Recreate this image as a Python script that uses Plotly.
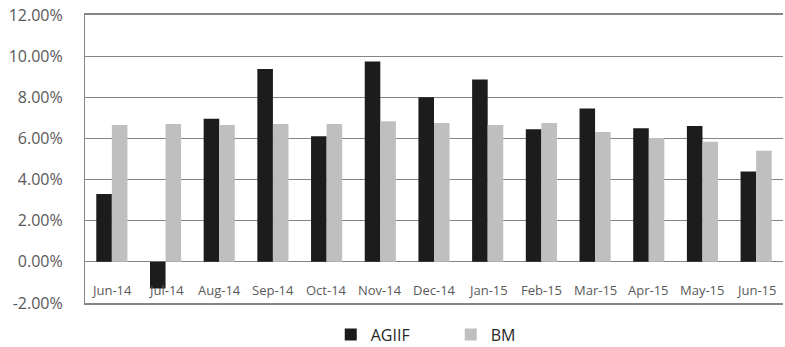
import plotly.graph_objects as go

# Monthly returns (%) for the fund and its benchmark
months = ["Jun-14", "Jul-14", "Aug-14", "Sep-14", "Oct-14", "Nov-14", "Dec-14",
          "Jan-15", "Feb-15", "Mar-15", "Apr-15", "May-15", "Jun-15"]
agiif = [3.29, -1.30, 6.96, 9.38, 6.10, 9.74, 8.00, 8.86, 6.44, 7.45, 6.49, 6.60, 4.39]
bm = [6.65, 6.70, 6.65, 6.70, 6.70, 6.83, 6.75, 6.65, 6.75, 6.31, 6.02, 5.84, 5.40]
y_ticks = [-2, 0, 2, 4, 6, 8, 10, 12]
y_labels = ["-2.00%", "0.00%", "2.00%", "4.00%", "6.00%", "8.00%", "10.00%", "12.00%"]

FONT = "Open Sans, sans-serif"
GRID = "#858585"
TEXT = "#595959"
LABEL_LEVEL = -1.38  # month labels sit between the 0% and -2% gridlines

fig = go.Figure()
fig.add_trace(go.Bar(name="AGIIF", x=months, y=agiif, marker_color="#1c1c1c",
                     marker_line_width=0))
fig.add_trace(go.Bar(name="BM", x=months, y=bm, marker_color="#bfbfbf",
                     marker_line_width=0))

# month labels drawn inside the plot area, above the bottom border
for m in months:
    fig.add_annotation(x=m, y=LABEL_LEVEL, xref="x", yref="y", text=m,
                       showarrow=False, xanchor="center", yanchor="middle",
                       font=dict(size=13, color=TEXT, family=FONT))

fig.update_layout(
    width=785, height=347,
    margin=dict(l=85, r=2, t=15, b=44, autoexpand=False),
    paper_bgcolor="white", plot_bgcolor="white",
    barmode="group", bargap=0.42, bargroupgap=0,
    font=dict(family=FONT, color=TEXT),
    showlegend=True,
    legend=dict(orientation="h", x=0.524, xanchor="center", y=-0.11, yanchor="middle",
                font=dict(size=16, color="#262626"), entrywidth=75,
                itemwidth=30, tracegroupgap=0),
)
fig.update_xaxes(
    type="category", showgrid=False,
    showline=True, linecolor=GRID, linewidth=1.5, mirror=True,
    ticks="", showticklabels=False,
)
fig.update_yaxes(
    range=[-2.005, 12], tickvals=y_ticks, ticktext=y_labels,
    showgrid=True, gridcolor=GRID, gridwidth=1.2,
    zeroline=True, zerolinecolor=GRID, zerolinewidth=1.2,
    showline=True, linecolor=GRID, linewidth=1.2,
    ticks="", ticklabelstandoff=18, tickfont=dict(size=16, color=TEXT),
)

fig.write_html("out.html")
